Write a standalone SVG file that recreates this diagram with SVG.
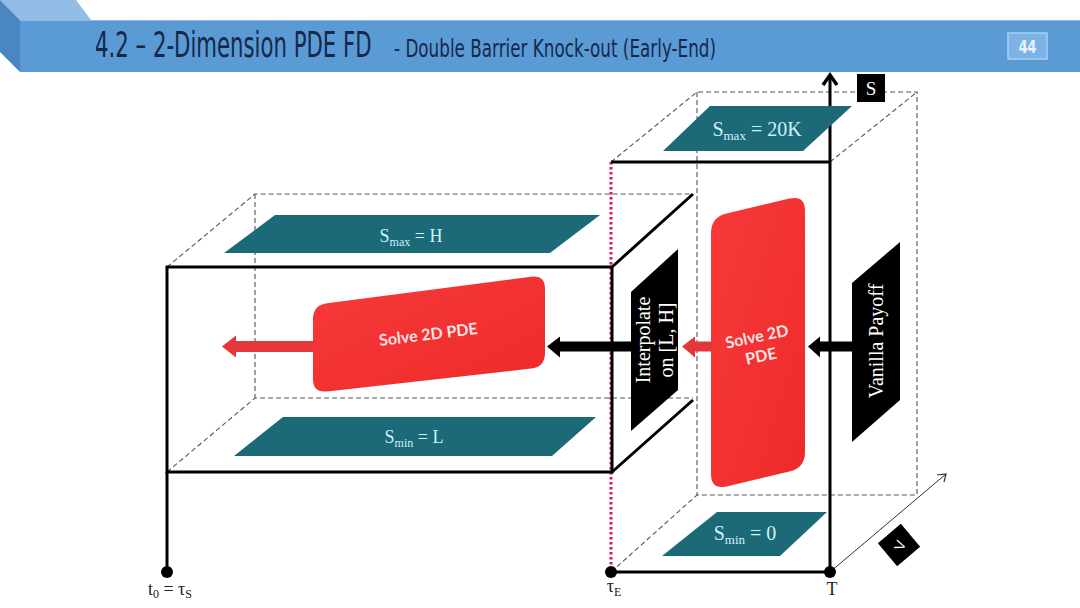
<svg xmlns="http://www.w3.org/2000/svg" width="1080" height="608" viewBox="0 0 1080 608">
<defs>
<style>
.solid{fill:none;stroke:#000;stroke-width:3}
.dash{fill:none;stroke:#555;stroke-width:1.1;stroke-dasharray:5 3}
.teal{fill:#1c6a77}
.tlab{font-family:"Liberation Serif","DejaVu Serif",serif;fill:#cdf1f8;text-anchor:middle}
.blk{fill:#000}
.wlab{font-family:"Liberation Serif","DejaVu Serif",serif;fill:#fff;font-size:20px;text-anchor:middle}
.rlab{font-family:Lato,"Open Sans",sans-serif;font-weight:bold;fill:#fde4e4;font-size:16px;text-anchor:middle}
.axlab{font-family:"Liberation Serif","DejaVu Serif",serif;fill:#222;font-size:18px;text-anchor:middle}
.title{font-family:"DejaVu Sans",sans-serif;fill:#15284a}
</style>
<linearGradient id="redg" x1="0" y1="0" x2="1" y2="1">
<stop offset="0" stop-color="#f73a3a"/>
<stop offset="1" stop-color="#ee2a2a"/>
</linearGradient>
</defs>
<rect width="1080" height="608" fill="#fff"/>

<g id="title-bar">
<rect x="20" y="20" width="1060" height="52" fill="#5b9bd5"/>
<polygon points="0,0 76,0 91,20 20,20" fill="#92bce6"/>
<polygon points="0,0 20,20 20,72 0,52" fill="#4a86c4"/>
<line x1="20" y1="20.5" x2="1080" y2="20.5" stroke="#8ab9e6" stroke-width="1"/>
<text class="title" transform="translate(95,57) scale(0.59,1)" x="0" y="0" font-size="36">4.2 – 2-Dimension PDE FD</text>
<text class="title" transform="translate(394,57) scale(0.70,1)" x="0" y="0" font-size="24">- Double Barrier Knock-out (Early-End)</text>
<rect x="1008" y="33" width="39" height="26" fill="#7db2e6" stroke="#a9cff2" stroke-width="1.5"/>
<text transform="translate(1027.5,53) scale(0.75,1)" x="0" y="0" font-family="DejaVu Sans,sans-serif" font-weight="bold" font-size="17" fill="#e8f3ff" text-anchor="middle">44</text>
</g>

<g id="left-box">
<polyline class="dash" points="167,267 255,194 693,194"/>
<polyline class="dash" points="167,472 255,398 693,398"/>
<line class="dash" x1="255" y1="194" x2="255" y2="398"/>
<line class="solid" x1="612" y1="267" x2="693" y2="194"/>
<line class="solid" x1="612" y1="472" x2="693" y2="400"/>
</g>

<g id="right-box">
<polyline class="dash" points="611,162 697,92 917,92 917,495 697,495 697,92"/>
<line class="dash" x1="830" y1="162" x2="917" y2="92"/>
<line class="dash" x1="611" y1="572" x2="697" y2="495"/>
<line x1="611" y1="162" x2="611" y2="572" stroke="#e5174f" stroke-width="3" stroke-dasharray="2.5 2.5"/>
<line class="solid" x1="611" y1="162" x2="830" y2="162"/>
<line class="solid" x1="611" y1="572" x2="830" y2="572"/>
</g>

<g id="left-box-front">
<rect class="solid" x="167" y="267" width="445" height="205"/>
<line class="solid" x1="167" y1="472" x2="167" y2="572"/>
</g>

<g id="s-axis">
<line class="solid" x1="830" y1="572" x2="830" y2="76"/>
<polyline points="823,85 830,75 837,85" fill="none" stroke="#000" stroke-width="3.5"/>
<rect x="857" y="74" width="28" height="28" fill="#000"/>
<text x="871" y="95" font-family="Liberation Serif,serif" font-size="19" fill="#fff" text-anchor="middle">S</text>
</g>

<g id="v-axis">
<line x1="830" y1="572" x2="946" y2="474" stroke="#333" stroke-width="1"/>
<polyline points="937,475 946,474 944,482" fill="none" stroke="#333" stroke-width="1.2"/>
<g transform="translate(899,545) rotate(-40)">
<rect x="-15" y="-15" width="30" height="30" fill="#000"/>
<text x="0" y="6" transform="rotate(-30)" font-family="Liberation Sans,sans-serif" font-size="14" fill="#fff" text-anchor="middle">V</text>
</g>
</g>

<g id="smax-h">
<polygon class="teal" points="275,215 600,215 550,253 224,253"/>
<text class="tlab" x="411" y="242" font-size="18">S<tspan font-size="12" dy="4">max</tspan><tspan dy="-4"> = H</tspan></text>
</g>
<g id="smin-l">
<polygon class="teal" points="283,417 596,417 552,456 234,456"/>
<text class="tlab" x="414" y="443" font-size="18">S<tspan font-size="12" dy="4">min</tspan><tspan dy="-4"> = L</tspan></text>
</g>
<g id="smax-20k">
<polygon class="teal" points="710,106 852,106 803,151 663,151"/>
<text class="tlab" x="757" y="136" font-size="20">S<tspan font-size="13" dy="4">max</tspan><tspan dy="-4"> = 20K</tspan></text>
</g>
<g id="smin-0">
<polygon class="teal" points="717,512 827,512 780,556 662,556"/>
<text class="tlab" x="745" y="540" font-size="20">S<tspan font-size="13" dy="4">min</tspan><tspan dy="-4"> = 0</tspan></text>
</g>

<g id="solve-left">
<path d="M313,319 Q313,305 327,303.2 L531,276.8 Q545,275 545,289 L545,353 Q545,367 531,368.6 L327,391.4 Q313,393 313,379 Z" fill="url(#redg)"/>
<text class="rlab" transform="translate(429,340) rotate(-7)" x="0" y="0">Solve 2D PDE</text>
</g>

<g id="solve-right">
<path d="M711,233 Q711,217 726.6,213.4 L789.4,198.6 Q805,195 805,211 L805,452 Q805,468 789.4,471.6 L726.6,486.4 Q711,490 711,474 Z" fill="url(#redg)"/>
<text class="rlab" transform="translate(758,342) rotate(-12)" font-size="17"><tspan x="0" y="0">Solve 2D</tspan><tspan x="0" y="20">PDE</tspan></text>
</g>

<g id="interpolate">
<polygon class="blk" points="631,292 678,249 678,390 631,431"/>
<text class="wlab" transform="translate(654,340) rotate(-90)"><tspan x="0" y="-4">Interpolate</tspan><tspan x="0" y="19">on [L, H]</tspan></text>
</g>

<g id="vanilla">
<polygon class="blk" points="852,283 900,242 900,400 852,442"/>
<text class="wlab" transform="translate(883,341) rotate(-90)" x="0" y="0">Vanilla Payoff</text>
</g>

<g id="connectors">
<polygon points="313,341 236,341 236,335.5 222,346.5 236,357.5 236,352 313,352" fill="#e3373a"/>
<polygon points="632,341.5 560,341.5 560,336.5 547,346.5 560,357.5 560,351.5 632,351.5" fill="#000"/>
<polygon points="712,341.5 695,341.5 695,336.5 682,346.5 695,357.5 695,351.5 712,351.5" fill="#e3373a"/>
<polygon points="853,341.5 820,341.5 820,336.5 808,346.5 820,357.5 820,351.5 853,351.5" fill="#000"/>
</g>

<g id="time-points">
<circle cx="167" cy="572" r="6" fill="#000"/>
<circle cx="611" cy="572" r="6" fill="#000"/>
<circle cx="830" cy="572" r="6" fill="#000"/>
<text class="axlab" x="170" y="595">t<tspan font-size="12" dy="3">0</tspan><tspan dy="-3"> = τ</tspan><tspan font-size="12" dy="3">S</tspan></text>
<text class="axlab" x="614" y="592">τ<tspan font-size="12" dy="4">E</tspan></text>
<text class="axlab" x="832" y="595">T</text>
</g>
</svg>
